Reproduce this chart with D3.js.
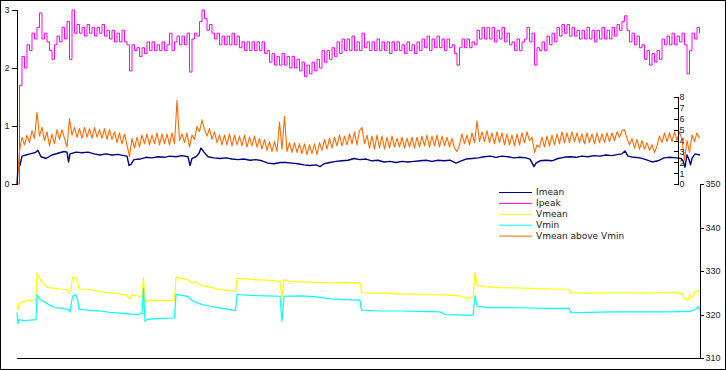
<!DOCTYPE html>
<html>
<head>
<meta charset="utf-8">
<script src="https://d3js.org/d3.v7.min.js"></script>
<style>
body { margin: 0; background: #fff; }
svg { display: block; font-family: "DejaVu Sans", sans-serif; }
.axis text { font-size: 9px; fill: #222; }
.axis path, .axis line { stroke: #000; shape-rendering: crispEdges; }
.legend text { font-size: 9px; fill: #222; }
</style>
</head>
<body>
<script>
// logger readings, one Ipeak / (Vmean - Vmin) sample every 5 minutes
var sampleMinutes = 5;
var totalMinutes = 1366;

var ipeak = [
  0.0, 1.7, 2.2, 2.0, 2.4, 2.3, 2.6, 2.5, 2.7, 2.95,
  2.5, 2.6, 2.45, 2.3, 2.15, 2.4, 2.55, 2.45, 2.7, 2.5,
  2.8, 2.15, 3.0, 2.6, 2.75, 2.6, 2.7, 2.55, 2.75, 2.6,
  2.7, 2.55, 2.7, 2.6, 2.75, 2.55, 2.65, 2.5, 2.65, 2.45,
  2.6, 2.45, 2.65, 2.45, 2.4, 1.95, 2.4, 2.3, 2.35, 2.2,
  2.35, 2.25, 2.45, 2.3, 2.45, 2.3, 2.4, 2.3, 2.45, 2.3,
  2.4, 2.6, 2.3, 2.45, 2.55, 2.4, 2.55, 2.4, 2.6, 1.93,
  2.5, 2.6, 2.55, 2.8, 3.0, 2.85, 2.65, 2.75, 2.6, 2.5,
  2.6, 2.4, 2.55, 2.4, 2.55, 2.4, 2.6, 2.4, 2.55, 2.35,
  2.45, 2.3, 2.45, 2.3, 2.45, 2.3, 2.45, 2.3, 2.45, 2.25,
  2.3, 2.1, 2.25, 2.05, 2.2, 2.05, 2.25, 2.05, 2.2, 2.0,
  2.2, 2.0, 2.15, 1.95, 2.1, 1.85, 2.05, 1.9, 2.1, 1.95,
  2.15, 2.0, 2.3, 2.1, 2.3, 2.15, 2.35, 2.2, 2.45, 2.25,
  2.5, 2.3, 2.5, 2.3, 2.55, 2.3, 2.45, 2.3, 2.6, 2.35,
  2.45, 2.3, 2.45, 2.3, 2.5, 2.3, 2.45, 2.3, 2.45, 2.25,
  2.45, 2.3, 2.45, 2.3, 2.4, 2.25, 2.45, 2.3, 2.4, 2.25,
  2.45, 2.3, 2.5, 2.35, 2.55, 2.3, 2.5, 2.35, 2.55, 2.35,
  2.5, 2.3, 2.5, 2.35, 2.4, 2.25, 2.05, 2.35, 2.5, 2.35,
  2.5, 2.35, 2.45, 2.4, 2.65, 2.5, 2.7, 2.5, 2.7, 2.5,
  2.7, 2.45, 2.65, 2.5, 2.7, 2.45, 2.6, 2.4, 2.45, 2.3,
  2.5, 2.3, 2.45, 2.5, 2.7, 2.45, 2.6, 2.05, 2.35, 2.3,
  2.45, 2.3, 2.55, 2.4, 2.6, 2.45, 2.7, 2.55, 2.75, 2.6,
  2.75, 2.55, 2.7, 2.55, 2.65, 2.5, 2.65, 2.5, 2.7, 2.5,
  2.65, 2.45, 2.65, 2.5, 2.7, 2.5, 2.65, 2.5, 2.7, 2.55,
  2.75, 2.65, 2.8, 2.9, 2.65, 2.45, 2.6, 2.4, 2.55, 2.35,
  2.4, 2.15, 2.3, 2.05, 2.25, 2.1, 2.3, 2.15, 2.5, 2.4,
  2.55, 2.4, 2.6, 2.4, 2.55, 2.45, 2.6, 2.4, 1.9, 2.3,
  2.6, 2.5, 2.7, 2.6
];

var vAboveMin = [
  0.0, 3.0, 4.3, 3.6, 4.5, 3.8, 4.9, 4.2, 6.6, 4.4,
  5.2, 4.0, 4.8, 3.5, 4.6, 3.7, 5.0, 4.1, 5.0, 4.2,
  3.4, 6.0, 4.5, 5.2, 4.3, 5.1, 4.2, 5.2, 4.3, 5.1,
  4.2, 5.2, 4.3, 5.0, 4.2, 5.1, 4.1, 5.0, 4.1, 4.8,
  3.8, 4.7, 3.7, 4.6, 3.6, 2.5, 4.2, 3.3, 4.3, 3.4,
  4.5, 3.7, 4.6, 3.6, 4.5, 3.7, 4.7, 3.6, 4.6, 3.7,
  4.6, 3.6, 4.7, 3.7, 7.7, 4.0, 4.6, 3.8, 4.7, 3.4,
  4.5, 4.1, 5.3, 4.8, 5.9, 5.0, 4.4, 5.1, 4.1, 4.8,
  3.8, 4.5, 3.6, 4.5, 3.6, 4.6, 3.5, 4.5, 3.6, 4.4,
  3.5, 4.5, 3.4, 4.3, 3.5, 4.4, 3.4, 4.2, 3.2, 4.1,
  3.1, 3.9, 3.0, 3.9, 3.0, 5.7, 3.2, 6.2, 3.0, 3.8,
  2.9, 3.8, 2.9, 3.7, 2.8, 3.7, 2.7, 3.6, 2.8, 3.7,
  2.7, 3.8, 3.1, 4.1, 3.2, 4.2, 3.3, 4.3, 3.5, 4.5,
  3.5, 4.4, 3.6, 4.6, 3.7, 4.8, 3.6, 4.9, 5.2, 3.7,
  4.5, 3.3, 4.4, 3.2, 4.5, 3.3, 4.4, 3.2, 4.3, 3.3,
  4.4, 3.4, 4.2, 3.4, 4.3, 3.3, 4.2, 3.4, 4.3, 3.3,
  4.3, 3.4, 4.4, 3.5, 4.5, 3.4, 4.4, 3.5, 4.5, 3.4,
  4.4, 3.5, 4.3, 3.4, 4.2, 3.3, 3.0, 3.6, 4.6, 3.7,
  4.5, 3.6, 4.7, 3.8, 5.8, 3.9, 4.8, 3.9, 4.9, 3.8,
  4.7, 3.7, 4.8, 3.8, 4.7, 3.6, 4.6, 3.6, 4.5, 3.5,
  4.6, 3.6, 4.7, 3.8, 4.8, 4.0, 4.3, 2.9, 3.6, 3.4,
  4.3, 3.4, 4.4, 3.5, 4.5, 3.6, 4.6, 3.7, 4.8, 3.8,
  4.7, 3.8, 4.8, 3.9, 4.7, 3.8, 4.6, 3.7, 4.7, 3.8,
  4.6, 3.7, 4.7, 3.8, 4.6, 3.8, 4.7, 3.9, 4.7, 4.0,
  4.8, 4.3, 4.9, 5.0, 4.2, 3.6, 4.2, 3.3, 4.1, 3.2,
  4.0, 3.2, 3.8, 3.1, 3.6, 2.9, 3.5, 4.4, 3.8, 4.7,
  3.9, 4.7, 3.9, 4.8, 4.0, 4.8, 4.1, 2.2, 4.0, 2.9,
  4.5, 3.9, 4.7, 4.2
];

// [minute, value]
var imean = [
  [0, 0.0], [2, 0.3], [6, 0.32], [10, 0.48], [18, 0.5], [26, 0.52], [36, 0.54], [42, 0.58],
  [48, 0.47], [58, 0.44], [70, 0.5], [82, 0.53], [94, 0.56], [100, 0.55], [103, 0.38], [106, 0.52],
  [118, 0.55], [130, 0.54], [142, 0.55], [154, 0.52], [166, 0.5], [178, 0.52], [190, 0.5], [202, 0.51],
  [214, 0.49], [220, 0.48], [224, 0.32], [228, 0.34], [234, 0.42], [246, 0.43], [258, 0.46], [270, 0.45],
  [282, 0.47], [294, 0.46], [306, 0.48], [318, 0.47], [330, 0.49], [342, 0.47], [346, 0.32], [350, 0.44],
  [358, 0.47], [364, 0.53], [368, 0.62], [374, 0.55], [382, 0.47], [394, 0.45], [406, 0.44], [418, 0.45],
  [430, 0.43], [442, 0.42], [454, 0.43], [466, 0.41], [478, 0.42], [490, 0.4], [502, 0.36], [514, 0.35],
  [526, 0.37], [538, 0.37], [550, 0.36], [562, 0.35], [574, 0.33], [586, 0.32], [598, 0.33], [606, 0.3],
  [614, 0.35], [626, 0.37], [638, 0.39], [650, 0.4], [662, 0.41], [674, 0.44], [686, 0.42], [698, 0.43],
  [710, 0.4], [722, 0.41], [734, 0.38], [746, 0.39], [758, 0.37], [770, 0.39], [782, 0.38], [794, 0.39],
  [806, 0.4], [818, 0.41], [830, 0.39], [842, 0.41], [854, 0.4], [866, 0.41], [878, 0.36], [886, 0.39],
  [898, 0.43], [910, 0.44], [922, 0.45], [934, 0.47], [946, 0.48], [958, 0.46], [970, 0.48], [982, 0.47],
  [994, 0.45], [1006, 0.46], [1018, 0.45], [1026, 0.43], [1034, 0.3], [1038, 0.36], [1046, 0.4], [1058, 0.41],
  [1070, 0.4], [1082, 0.44], [1094, 0.46], [1106, 0.47], [1118, 0.46], [1130, 0.48], [1142, 0.47], [1154, 0.49],
  [1166, 0.48], [1178, 0.5], [1190, 0.49], [1202, 0.51], [1210, 0.52], [1216, 0.57], [1222, 0.48], [1234, 0.46],
  [1246, 0.45], [1258, 0.42], [1270, 0.38], [1282, 0.4], [1294, 0.45], [1306, 0.46], [1318, 0.45], [1328, 0.44],
  [1332, 0.4], [1336, 0.29], [1340, 0.5], [1344, 0.42], [1347, 0.33], [1350, 0.44], [1356, 0.52], [1366, 0.5]
];

var vmean = [
  [0, 322.0], [2, 321.0], [4, 322.5], [10, 322.8], [20, 323.2], [38, 323.3], [40, 329.5], [44, 328.5],
  [50, 327.5], [56, 326.8], [62, 326.2], [76, 326.0], [90, 325.8], [100, 325.7], [103, 324.9], [108, 325.6],
  [111, 328.6], [118, 328.4], [121, 327.8], [124, 325.8], [142, 325.8], [156, 325.5], [170, 325.2], [186, 325.0],
  [202, 324.8], [218, 324.5], [226, 323.6], [230, 324.5], [242, 324.3], [250, 324.0], [253, 328.4], [256, 322.8],
  [260, 323.2], [276, 323.3], [296, 323.2], [315, 323.3], [318, 328.5], [330, 328.3], [342, 328.0], [350, 327.3],
  [358, 327.5], [362, 327.0], [372, 326.6], [386, 326.3], [400, 325.9], [416, 325.6], [437, 325.3], [440, 328.3],
  [456, 328.2], [476, 328.0], [496, 327.9], [526, 327.6], [530, 323.8], [534, 328.0], [546, 327.6], [566, 327.5],
  [596, 327.4], [626, 327.3], [656, 327.4], [686, 327.3], [689, 325.0], [706, 324.9], [736, 324.9], [766, 324.7],
  [796, 324.7], [826, 324.6], [856, 324.5], [886, 324.3], [902, 323.7], [912, 324.0], [916, 329.7], [920, 326.8],
  [936, 326.4], [966, 326.2], [996, 326.1], [1026, 326.0], [1056, 325.9], [1086, 325.8], [1104, 325.8], [1108, 325.0],
  [1136, 324.9], [1166, 324.9], [1196, 325.0], [1226, 325.0], [1256, 324.9], [1286, 325.0], [1316, 325.1], [1330, 324.8],
  [1336, 323.5], [1342, 323.3], [1346, 324.5], [1350, 323.8], [1356, 325.3], [1366, 325.5]
];

var vmin = [
  [0, 320.5], [2, 317.9], [4, 318.8], [14, 318.6], [26, 318.7], [38, 318.8], [40, 324.6], [46, 323.4],
  [56, 322.8], [66, 322.1], [76, 321.6], [90, 321.4], [102, 321.2], [106, 320.6], [111, 324.2], [118, 324.5],
  [121, 323.5], [124, 321.2], [142, 321.0], [166, 320.8], [186, 320.5], [206, 320.3], [226, 320.1], [242, 320.0],
  [250, 320.3], [253, 326.0], [256, 318.4], [260, 318.9], [286, 319.1], [315, 319.2], [318, 324.6], [330, 324.4],
  [342, 324.1], [350, 323.2], [358, 322.8], [370, 322.3], [386, 321.9], [402, 321.6], [418, 321.3], [437, 320.9],
  [440, 324.6], [466, 324.4], [496, 324.3], [526, 324.2], [530, 318.5], [534, 324.2], [566, 324.3], [596, 324.1],
  [626, 323.6], [656, 323.4], [686, 323.3], [689, 321.0], [726, 320.8], [766, 320.8], [806, 320.7], [846, 320.6],
  [856, 320.0], [886, 319.9], [906, 319.8], [912, 319.9], [916, 324.3], [920, 321.9], [946, 321.6], [986, 321.6],
  [1026, 321.5], [1066, 321.4], [1104, 321.4], [1108, 320.4], [1146, 320.5], [1186, 320.6], [1226, 320.6], [1266, 320.6],
  [1306, 320.6], [1346, 320.7], [1358, 321.2], [1362, 321.9], [1366, 321.0]
];

var seriesNames = ["Imean", "Ipeak", "Vmean", "Vmin", "Vmean above Vmin"];
var currentTicks = [0, 1, 2, 3];
var diffTicks = [0, 1, 2, 3, 4, 5, 6, 7, 8];
var voltTicks = [310, 320, 330, 340, 350];

var width = 726;
var height = 370;
var colors = ["#000080", "#ff00ff", "#ffff00", "#00ffff", "#ff6a00"];

var svg = d3.select('body').append('svg')
    .attr('width', width)
    .attr('height', height);

svg.append('rect')
    .attr('x', 0.5).attr('y', 0.5)
    .attr('width', width - 1).attr('height', height - 1)
    .attr('fill', '#fff')
    .attr('stroke', '#000');

var x = d3.scaleLinear().domain([0, totalMinutes]).range([17, 700]);
var yI = d3.scaleLinear().domain([0, 3]).range([184, 10]);
var yD = d3.scaleLinear().domain([0, 8]).range([184, 97]);
var yV = d3.scaleLinear().domain([310, 350]).range([358, 184]);

function indexed(arr) {
    return arr.map(function(v, i) { return [i * sampleMinutes, v]; });
}

function lineFor(y, curve) {
    return d3.line()
        .curve(curve)
        .x(function(d) { return x(d[0]); })
        .y(function(d) { return y(d[1]); });
}

// sampled peaks are quantised, so Ipeak is drawn as steps
var series = [
    { data: imean, y: yI, curve: d3.curveLinear, w: 1.4 },
    { data: indexed(ipeak), y: yI, curve: d3.curveStepAfter, w: 1 },
    { data: vmean, y: yV, curve: d3.curveLinear, w: 1.2 },
    { data: vmin, y: yV, curve: d3.curveLinear, w: 1.2 },
    { data: indexed(vAboveMin), y: yD, curve: d3.curveLinear, w: 1.1 }
];

// bottom base line under the voltage traces
svg.append('line')
    .attr('x1', x.range()[0]).attr('x2', x.range()[1])
    .attr('y1', yV(310) + 0.5).attr('y2', yV(310) + 0.5)
    .attr('stroke', '#000');

series.forEach(function(s, i) {
    svg.append('path')
        .attr('d', lineFor(s.y, s.curve)(s.data))
        .attr('fill', 'none')
        .attr('stroke', colors[i])
        .attr('stroke-width', s.w)
        .attr('stroke-linejoin', 'round');
});

svg.append('g')
    .attr('class', 'axis')
    .attr('transform', 'translate(16.5,0)')
    .call(d3.axisLeft(yI).tickValues(currentTicks).tickFormat(d3.format('d')).tickSize(5).tickPadding(2));

svg.append('g')
    .attr('class', 'axis')
    .attr('transform', 'translate(677.5,0)')
    .call(d3.axisRight(yD).tickValues(diffTicks).tickFormat(d3.format('d')).tickSize(-4).tickPadding(2));

svg.append('g')
    .attr('class', 'axis')
    .attr('transform', 'translate(699.5,0)')
    .call(d3.axisRight(yV).tickValues(voltTicks).tickFormat(d3.format('d')).tickSize(4).tickPadding(2));

var legend = svg.append('g')
    .attr('class', 'legend')
    .attr('transform', 'translate(499,192)');

seriesNames.forEach(function(name, i) {
    var row = legend.append('g').attr('transform', 'translate(0,' + (i * 10.9) + ')');
    row.append('line')
        .attr('x1', 0).attr('x2', 33)
        .attr('y1', 0.5).attr('y2', 0.5)
        .attr('stroke', colors[i]);
    row.append('text')
        .attr('x', 37)
        .attr('dy', '0.35em')
        .text(name);
});
</script>
</body>
</html>
